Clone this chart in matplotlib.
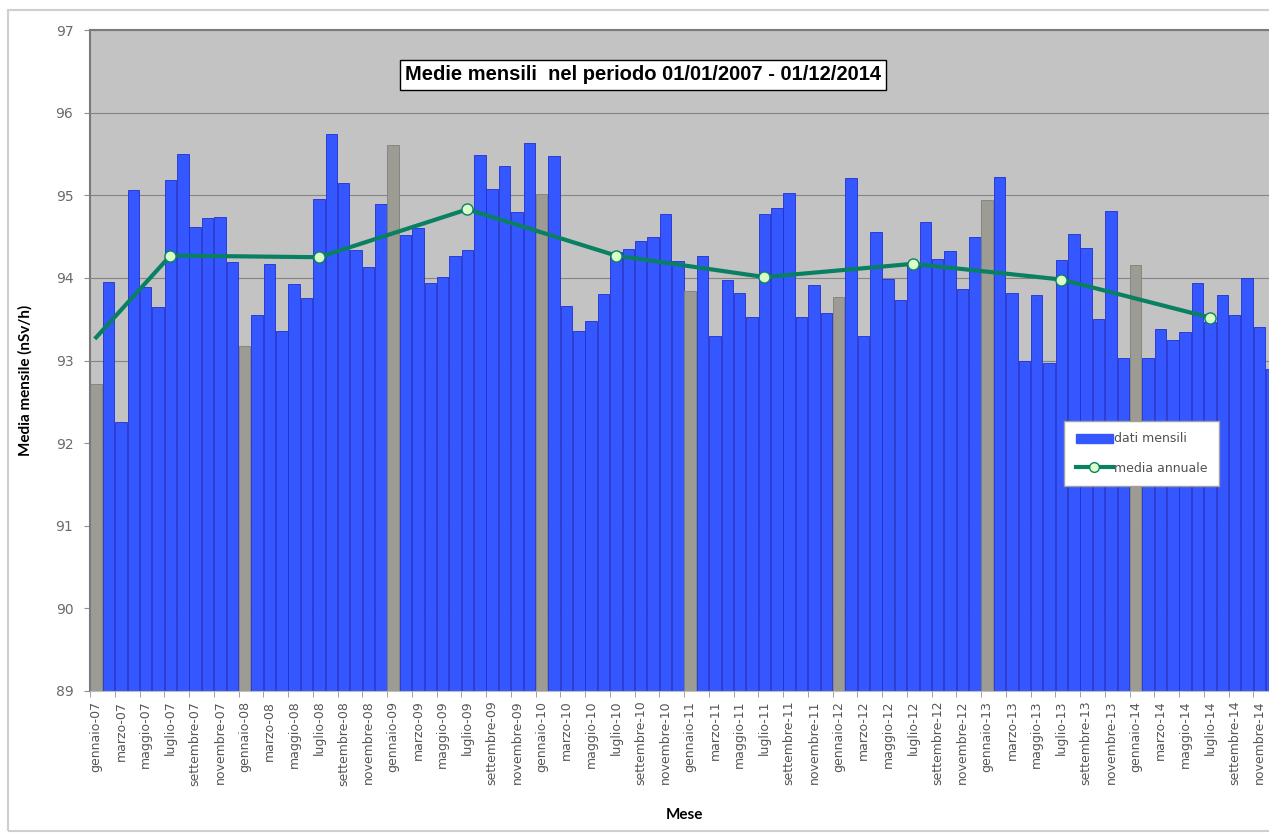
import numpy as np
import matplotlib.pyplot as plt
from matplotlib.patches import Rectangle
from matplotlib.lines import Line2D
from matplotlib.patches import Patch

mesi = ['gennaio', 'febbraio', 'marzo', 'aprile', 'maggio', 'giugno',
        'luglio', 'agosto', 'settembre', 'ottobre', 'novembre', 'dicembre']
anni = ['07', '08', '09', '10', '11', '12', '13', '14']

# medie mensili (nSv/h), una lista per anno
v2007 = [92.72, 93.95, 92.25, 95.06, 93.89, 93.65, 95.18, 95.50, 94.62, 94.72, 94.74, 94.19]
v2008 = [93.18, 93.55, 94.17, 93.36, 93.92, 93.76, 94.95, 95.74, 95.15, 94.34, 94.13, 94.90]
v2009 = [95.61, 94.52, 94.60, 93.94, 94.01, 94.27, 94.34, 95.49, 95.07, 95.35, 94.80, 95.63]
v2010 = [95.02, 95.48, 93.66, 93.36, 93.48, 93.81, 94.31, 94.35, 94.45, 94.49, 94.77, 94.21]
v2011 = [93.84, 94.26, 93.30, 93.97, 93.82, 93.53, 94.77, 94.85, 95.03, 93.53, 93.91, 93.58]
v2012 = [93.77, 95.21, 93.30, 94.56, 93.99, 93.73, 94.17, 94.68, 94.23, 94.33, 93.86, 94.49]
v2013 = [94.94, 95.22, 93.82, 92.99, 93.79, 92.97, 94.22, 94.53, 94.36, 93.50, 94.81, 93.03]
v2014 = [94.16, 93.03, 93.38, 93.25, 93.34, 93.94, 93.46, 93.79, 93.55, 94.00, 93.40, 92.90]

# media annuale, riportata a luglio (il primo punto e' l'inizio della linea)
media_idx = [0, 6, 18, 30, 42, 54, 66, 78, 90]
media_val = [93.28, 94.27, 94.25, 94.83, 94.27, 94.01, 94.17, 93.98, 93.52]

valori = np.array(v2007 + v2008 + v2009 + v2010 + v2011 + v2012 + v2013 + v2014)
etichette = [m + '-' + a for a in anni for m in mesi]
x = np.arange(len(valori))
colori = ['#9c9c94' if i % 12 == 0 else '#3457ff' for i in x]
bordi = ['#80807a' if i % 12 == 0 else '#1f2fd0' for i in x]

fig = plt.figure(figsize=(12.69, 8.35), dpi=100)
fig.patches.append(Rectangle((8 / 1269, 4 / 835), 1.1, 821 / 835, transform=fig.transFigure,
                             fill=False, edgecolor='#cfcfcf', linewidth=1.5))
ax = fig.add_axes([90 / 1269, 1 - 691 / 835, 1188 / 1269, 661 / 835])
ax.set_facecolor('#c3c3c3')

ax.bar(x, valori - 89, bottom=89, width=0.92, color=colori, edgecolor=bordi,
       linewidth=0.6, zorder=2)
ax.plot(media_idx, media_val, color='#0a8062', linewidth=3, zorder=3,
        marker='o', markersize=8, markerfacecolor='#d8ffc8', markeredgecolor='#0a8062',
        markeredgewidth=1, markevery=list(range(1, len(media_idx))))

ax.set_xlim(-0.5, len(valori) - 0.5)
ax.set_ylim(89, 97)
ax.set_yticks(range(89, 98))
ax.yaxis.grid(True, color='#858585', linewidth=0.8, zorder=0)
ax.set_axisbelow(True)

ax.set_xticks(x[::2])
ax.set_xticklabels(etichette[::2], rotation=90, fontsize=9, color='#555555')
ax.set_xticks(np.arange(-0.5, len(valori), 2), minor=True)
ax.tick_params(axis='x', which='major', length=0, pad=7)
ax.tick_params(axis='x', which='minor', length=4, color='#909090')
ax.tick_params(axis='y', labelsize=10, labelcolor='#6a6a6a', length=4, color='#909090', pad=8)

for s in ['top', 'left']:
    ax.spines[s].set_color('#7a7a7a')
    ax.spines[s].set_linewidth(1.5)
ax.spines['bottom'].set_color('#bdbdbd')
ax.spines['right'].set_visible(False)

ax.set_ylabel('Media mensile (nSv/h)', fontsize=11, fontweight='bold', family='Lato')
ax.yaxis.set_label_coords(-57 / 1188, (691 - 380) / 661)
ax.set_xlabel('Mese', fontsize=11, fontweight='bold', family='Lato')
ax.xaxis.set_label_coords(0.5, -(815 - 691) / 661)
ax.xaxis.label.set_va('center')

fig.text(643 / 1269, 1 - 75 / 835, 'Medie mensili  nel periodo 01/01/2007 - 01/12/2014',
         ha='center', va='center', fontsize=14.5, fontweight='bold', family='Liberation Sans',
         bbox=dict(boxstyle='square,pad=0.25', facecolor='white', edgecolor='black', linewidth=1))

handles = [Patch(facecolor='#3457ff', edgecolor='#3457ff'),
           Line2D([], [], color='#0a8062', linewidth=3, marker='o', markersize=7,
                  markerfacecolor='#d8ffc8', markeredgecolor='#0a8062')]
leg = fig.legend(handles, ['dati mensili', 'media annuale'], loc='upper left',
                 bbox_to_anchor=(1058 / 1269, 1 - 415 / 835), fontsize=9,
                 frameon=True, fancybox=False, framealpha=1, edgecolor='#a0a0a0',
                 handlelength=3.0, handletextpad=0.1, borderpad=0.9, labelspacing=1.3)
for t in leg.get_texts():
    t.set_color('#505050')

fig.savefig('out.png', dpi=100)
